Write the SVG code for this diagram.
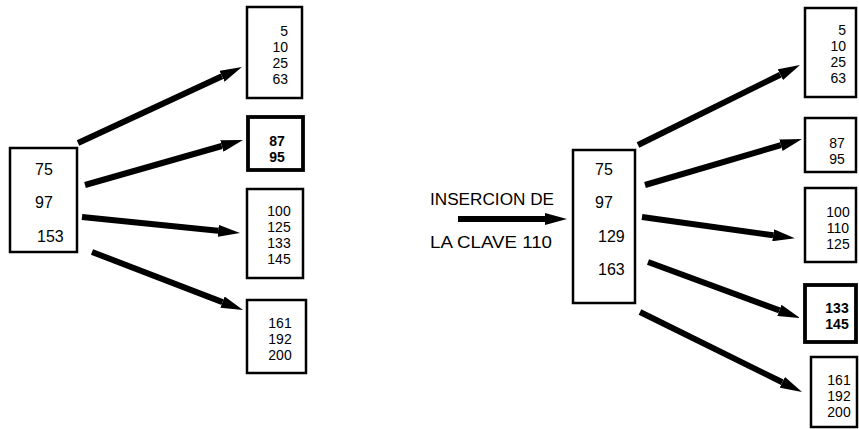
<svg xmlns="http://www.w3.org/2000/svg" width="859" height="429" viewBox="0 0 859 429">
<style>
.box{fill:#fff;stroke:#000;stroke-width:2.5}
.bold{fill:#fff;stroke:#000;stroke-width:3.8}
.t{font-family:"Liberation Sans",Arial,sans-serif;font-size:14px;fill:#000}
.r{font-family:"Liberation Sans",Arial,sans-serif;font-size:16px;fill:#000}
.b{font-weight:bold}
.e{text-anchor:end}
.m{text-anchor:middle}
.arr{stroke:#000;stroke-width:6;fill:none;marker-end:url(#ah)}
</style>
<defs>
<marker id="ah" markerUnits="userSpaceOnUse" markerWidth="22" markerHeight="12" refX="0" refY="6" orient="auto">
<path d="M0,0 L22,6 L0,12 z" fill="#000"/>
</marker>
</defs>
<rect width="859" height="429" fill="#fff"/>
<g id="connectors">
<line class="arr" x1="78" y1="143" x2="222" y2="76.2"/>
<line class="arr" x1="85" y1="185" x2="221.8" y2="146"/>
<line class="arr" x1="82" y1="217" x2="218.1" y2="230.8"/>
<line class="arr" x1="92" y1="252" x2="222.5" y2="302.1"/>
<line class="arr" x1="458" y1="219" x2="545" y2="219"/>
<line class="arr" x1="638" y1="145" x2="780.3" y2="74.7"/>
<line class="arr" x1="645" y1="185" x2="780.9" y2="145.2"/>
<line class="arr" x1="642" y1="217" x2="773.1" y2="235.3"/>
<line class="arr" x1="648" y1="262" x2="779.4" y2="310.4"/>
<line class="arr" x1="640" y1="312" x2="782.3" y2="382.3"/>
</g>
<g id="rootL">
<rect class="box" x="10" y="148" width="67" height="104"/>
<text class="r" x="35" y="175">75</text>
<text class="r" x="35" y="208">97</text>
<text class="r" x="37" y="242">153</text>
</g>
<g id="l1">
<rect class="box" x="247" y="7" width="55" height="91"/>
<text class="t e" x="288" y="36">5</text>
<text class="t e" x="288" y="52">10</text>
<text class="t e" x="288" y="68">25</text>
<text class="t e" x="288" y="84">63</text>
</g>
<g id="l2">
<rect class="bold" x="248" y="117" width="55" height="53"/>
<text class="t m b" x="277" y="146">87</text>
<text class="t m b" x="277" y="162">95</text>
</g>
<g id="l3">
<rect class="box" x="247" y="189" width="56" height="89"/>
<text class="t m" x="279" y="216">100</text>
<text class="t m" x="279" y="232">125</text>
<text class="t m" x="279" y="248">133</text>
<text class="t m" x="279" y="264">145</text>
</g>
<g id="l4">
<rect class="box" x="247" y="300" width="59" height="73"/>
<text class="t m" x="280" y="328">161</text>
<text class="t m" x="280" y="344">192</text>
<text class="t m" x="280" y="360">200</text>
</g>
<g id="label">
<text class="r" x="430" y="205" textLength="124" lengthAdjust="spacingAndGlyphs">INSERCION DE</text>
<text class="r" x="430" y="248" textLength="122" lengthAdjust="spacingAndGlyphs">LA CLAVE 110</text>
</g>
<g id="rootR">
<rect class="box" x="573" y="150" width="62" height="153"/>
<text class="r" x="595" y="175">75</text>
<text class="r" x="595" y="208">97</text>
<text class="r" x="598" y="242">129</text>
<text class="r" x="598" y="275">163</text>
</g>
<g id="r1">
<rect class="box" x="805" y="8" width="51" height="89"/>
<text class="t e" x="846" y="35">5</text>
<text class="t e" x="846" y="51">10</text>
<text class="t e" x="846" y="67">25</text>
<text class="t e" x="846" y="83">63</text>
</g>
<g id="r2">
<rect class="box" x="805" y="118" width="51" height="54"/>
<text class="t m" x="837" y="148">87</text>
<text class="t m" x="837" y="164">95</text>
</g>
<g id="r3">
<rect class="box" x="805" y="188" width="51" height="74"/>
<text class="t m" x="838" y="217">100</text>
<text class="t m" x="838" y="233">110</text>
<text class="t m" x="838" y="249">125</text>
</g>
<g id="r4">
<rect class="bold" x="805" y="285" width="51" height="57"/>
<text class="t m b" x="837" y="313">133</text>
<text class="t m b" x="837" y="329">145</text>
</g>
<g id="r5">
<rect class="box" x="811" y="357" width="46" height="70"/>
<text class="t m" x="839" y="385">161</text>
<text class="t m" x="839" y="401">192</text>
<text class="t m" x="839" y="417">200</text>
</g>
</svg>
